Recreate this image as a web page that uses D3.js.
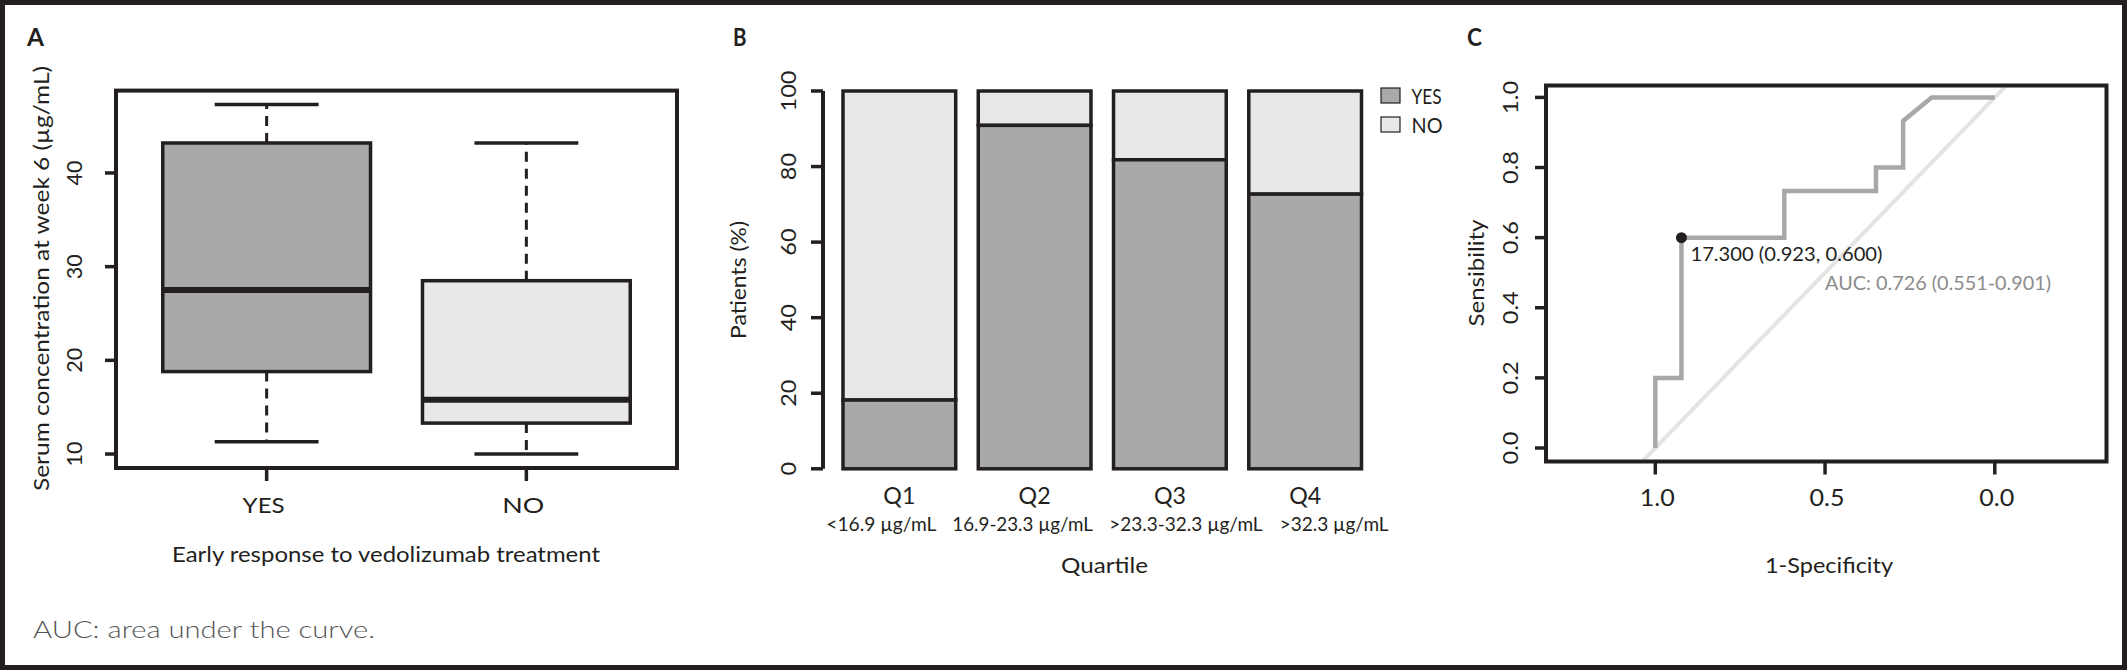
<!DOCTYPE html>
<html>
<head>
<meta charset="utf-8">
<script src="https://cdn.jsdelivr.net/npm/d3@7"></script>
<style>
  html, body { margin: 0; padding: 0; background: #fff; }
  svg { display: block; }
  text { font-family: Lato, "Open Sans", "DejaVu Sans", sans-serif; fill: #231f20; }
</style>
</head>
<body>
<svg id="chart" width="2127" height="670"></svg>
<script>
// ---------------- DATA ----------------
// Panel A: boxplot of serum concentration at week 6 (µg/mL)
const boxGroups = ["YES", "NO"];
const boxMin    = [11.3, 10.0];
const boxQ1     = [18.8, 13.3];
const boxMedian = [27.5, 15.8];
const boxQ3     = [43.2, 28.5];
const boxMax    = [47.3, 43.2];
const boxTicks  = [10, 20, 30, 40];

// Panel B: stacked percentage bars by quartile
const quartiles      = ["Q1", "Q2", "Q3", "Q4"];
const quartileRanges = ["<16.9 µg/mL", "16.9-23.3 µg/mL", ">23.3-32.3 µg/mL", ">32.3 µg/mL"];
const pctYes         = [18.2, 90.9, 81.8, 72.7];
const pctNo          = [81.8, 9.1, 18.2, 27.3];
const pctTicks       = [0, 20, 40, 60, 80, 100];
const legendLabels   = ["YES", "NO"];

// Panel C: ROC curve
const rocSpecificity = [1.0, 1.0, 0.923, 0.923, 0.62, 0.62, 0.35, 0.35, 0.27, 0.27, 0.186, 0.0];
const rocSensitivity = [0.0, 0.2, 0.2,   0.6,   0.6,  0.733, 0.733, 0.8, 0.8, 0.933, 1.0, 1.0];
const rocTicksY = [0.0, 0.2, 0.4, 0.6, 0.8, 1.0];
const rocTicksX = [1.0, 0.5, 0.0];
const bestThreshold = 17.3, bestSpec = 0.923, bestSens = 0.600;
const aucValue = 0.726, aucLow = 0.551, aucHigh = 0.901;

// ---------------- STYLE ----------------
const INK = "#231f20";
const DARK_FILL = "#a9a9aa";
const LIGHT_FILL = "#e8e8e8";

const svg = d3.select("#chart");
svg.append("rect").attr("x", 0).attr("y", 0).attr("width", 2127).attr("height", 670).attr("fill", "#fff");

// text helper: Futura-like wide set is imitated by stretching to the measured width
function label(g, o) {
  const t = g.append("text")
    .attr("font-size", o.size)
    .attr("text-anchor", o.anchor || "middle")
    .text(o.text);
  if (o.rotate) t.attr("transform", `translate(${o.x},${o.y}) rotate(-90)`);
  else t.attr("x", o.x).attr("y", o.y);
  if (o.weight) t.attr("font-weight", o.weight);
  if (o.color) t.style("fill", o.color);
  if (o.width) t.attr("textLength", o.width).attr("lengthAdjust", "spacingAndGlyphs");
  return t;
}

// ================= PANEL A =================
(function () {
  const left = 116, right = 677, top = 90.6, bottom = 468;
  const lo = d3.min(boxMin), hi = d3.max(boxMax), ext = (hi - lo) * 0.04;
  const y = d3.scaleLinear().domain([lo - ext, hi + ext]).range([bottom, top]);
  const x = d3.scaleLinear().domain([0.42, boxGroups.length + 0.58]).range([left, right]);
  const unit = x(2) - x(1);
  const g = svg.append("g");

  boxGroups.forEach((name, i) => {
    const cx = x(i + 1), bw = unit * 0.8, cw = unit * 0.4;
    g.append("line").attr("x1", cx).attr("x2", cx).attr("y1", y(boxQ3[i])).attr("y2", y(boxMax[i]))
      .attr("stroke", INK).attr("stroke-width", 3).attr("stroke-dasharray", "10,7");
    g.append("line").attr("x1", cx).attr("x2", cx).attr("y1", y(boxQ1[i])).attr("y2", y(boxMin[i]))
      .attr("stroke", INK).attr("stroke-width", 3).attr("stroke-dasharray", "10,7");
    [boxMin[i], boxMax[i]].forEach(v => {
      g.append("line").attr("x1", cx - cw / 2).attr("x2", cx + cw / 2).attr("y1", y(v)).attr("y2", y(v))
        .attr("stroke", INK).attr("stroke-width", 3.5);
    });
    g.append("rect").attr("x", cx - bw / 2).attr("width", bw)
      .attr("y", y(boxQ3[i])).attr("height", y(boxQ1[i]) - y(boxQ3[i]))
      .attr("fill", i === 0 ? DARK_FILL : LIGHT_FILL).attr("stroke", INK).attr("stroke-width", 3.5);
    g.append("line").attr("x1", cx - bw / 2).attr("x2", cx + bw / 2).attr("y1", y(boxMedian[i])).attr("y2", y(boxMedian[i]))
      .attr("stroke", INK).attr("stroke-width", 6);
    g.append("line").attr("x1", cx).attr("x2", cx).attr("y1", bottom).attr("y2", bottom + 13)
      .attr("stroke", INK).attr("stroke-width", 3.5);
    label(g, { text: name, x: cx - 3, y: 512.5, size: 22, width: 42 });
  });

  g.append("rect").attr("x", left).attr("y", top).attr("width", right - left).attr("height", bottom - top)
    .attr("fill", "none").attr("stroke", INK).attr("stroke-width", 4);

  boxTicks.forEach(t => {
    g.append("line").attr("x1", left - 11).attr("x2", left).attr("y1", y(t)).attr("y2", y(t))
      .attr("stroke", INK).attr("stroke-width", 3.5);
    label(g, { text: String(t), x: 82, y: y(t), size: 21, rotate: true, width: 12.5 * String(t).length });
  });

  label(g, { text: "Serum concentration at week 6 (µg/mL)", x: 48.5, y: 278.5, size: 21, rotate: true, width: 425 });
  label(g, { text: "Early response to vedolizumab treatment", x: 386, y: 561.5, size: 21, width: 428 });
  label(g, { text: "A", x: 27, y: 45.5, size: 24, weight: "bold", anchor: "start", width: 17 });
})();

// ================= PANEL B =================
(function () {
  const axisX = 823;
  const y = d3.scaleLinear().domain([0, 100]).range([468.8, 91]);
  const x = d3.scaleBand().domain(quartiles).range([843, 1361.5]).paddingInner(1 / 6).paddingOuter(0);
  const g = svg.append("g");
  const nudge = [-18, -12, 16, 29];
  const rangeWidths = [110, 140.5, 153.5, 109];

  quartiles.forEach((q, i) => {
    const bx = x(q), bw = x.bandwidth();
    g.append("rect").attr("x", bx).attr("width", bw).attr("y", y(pctYes[i] + pctNo[i])).attr("height", y(pctYes[i]) - y(pctYes[i] + pctNo[i]))
      .attr("fill", LIGHT_FILL).attr("stroke", INK).attr("stroke-width", 3.5);
    g.append("rect").attr("x", bx).attr("width", bw).attr("y", y(pctYes[i])).attr("height", y(0) - y(pctYes[i]))
      .attr("fill", DARK_FILL).attr("stroke", INK).attr("stroke-width", 3.5);
    label(g, { text: q, x: bx + bw / 2, y: 503.5, size: 23, width: 32 });
    label(g, { text: quartileRanges[i], x: bx + bw / 2 + nudge[i], y: 531, size: 19, width: rangeWidths[i] });
  });

  g.append("line").attr("x1", axisX).attr("x2", axisX).attr("y1", y(0)).attr("y2", y(100))
    .attr("stroke", INK).attr("stroke-width", 4);
  pctTicks.forEach(t => {
    g.append("line").attr("x1", axisX - 12).attr("x2", axisX).attr("y1", y(t)).attr("y2", y(t))
      .attr("stroke", INK).attr("stroke-width", 3.5);
    label(g, { text: String(t), x: 795.5, y: y(t), size: 22, rotate: true, width: 13.6 * String(t).length });
  });

  label(g, { text: "Patients (%)", x: 746, y: 280, size: 21, rotate: true, width: 118 });
  label(g, { text: "Quartile", x: 1104.5, y: 573, size: 22, width: 87 });
  label(g, { text: "B", x: 733, y: 45.5, size: 24, weight: "bold", anchor: "start", width: 13.5 });

  legendLabels.forEach((lab, i) => {
    const ly = 88 + i * 29;
    g.append("rect").attr("x", 1381).attr("y", ly).attr("width", 19).attr("height", 15)
      .attr("fill", i === 0 ? DARK_FILL : LIGHT_FILL).attr("stroke", INK).attr("stroke-width", 1.2);
    label(g, { text: lab, x: 1411.5, y: ly + 15.5, size: 21, anchor: "start", width: i === 0 ? 30 : 31 });
  });
})();

// ================= PANEL C =================
(function () {
  const left = 1546, right = 2106.5, top = 85.5, bottom = 461.5;
  const x = d3.scaleLinear().domain([1, 0]).range([1655.3, 1994.8]);
  const y = d3.scaleLinear().domain([0, 1]).range([448, 97.4]);
  const g = svg.append("g");

  svg.append("clipPath").attr("id", "clipC").append("rect")
    .attr("x", left).attr("y", top).attr("width", right - left).attr("height", bottom - top);

  g.append("line").attr("clip-path", "url(#clipC)")
    .attr("x1", x(1.2)).attr("y1", y(-0.2)).attr("x2", x(-0.2)).attr("y2", y(1.2))
    .attr("stroke", "#e4e4e4").attr("stroke-width", 4);

  const pts = rocSpecificity.map((s, i) => [s, rocSensitivity[i]]);
  const line = d3.line().x(d => x(d[0])).y(d => y(d[1]));
  g.append("path").attr("d", line(pts)).attr("fill", "none")
    .attr("stroke", "#a8a8a8").attr("stroke-width", 4.5).attr("stroke-linejoin", "miter");

  g.append("circle").attr("cx", x(bestSpec)).attr("cy", y(bestSens)).attr("r", 5.5).attr("fill", INK);
  label(g, { text: `${bestThreshold.toFixed(3)} (${bestSpec.toFixed(3)}, ${bestSens.toFixed(3)})`,
             x: x(bestSpec) + 9, y: y(bestSens) + 23, size: 19, anchor: "start", width: 192 });
  label(g, { text: `AUC: ${aucValue.toFixed(3)} (${aucLow.toFixed(3)}-${aucHigh.toFixed(3)})`,
             x: x(0.5), y: 290, size: 19, anchor: "start", width: 226, color: "#8c8c8c" });

  g.append("rect").attr("x", left).attr("y", top).attr("width", right - left).attr("height", bottom - top)
    .attr("fill", "none").attr("stroke", INK).attr("stroke-width", 4);

  rocTicksY.forEach(t => {
    g.append("line").attr("x1", left - 11).attr("x2", left).attr("y1", y(t)).attr("y2", y(t))
      .attr("stroke", INK).attr("stroke-width", 3.5);
    label(g, { text: t.toFixed(1), x: 1518, y: y(t), size: 22, rotate: true, width: 33 });
  });
  rocTicksX.forEach(t => {
    g.append("line").attr("x1", x(t)).attr("x2", x(t)).attr("y1", bottom).attr("y2", bottom + 13)
      .attr("stroke", INK).attr("stroke-width", 3.5);
    label(g, { text: t.toFixed(1), x: x(t) + 2, y: 506, size: 23, width: 35 });
  });

  label(g, { text: "Sensibility", x: 1484, y: 273, size: 21, rotate: true, width: 107 });
  label(g, { text: "1-Specificity", x: 1829, y: 573, size: 22, width: 128 });
  label(g, { text: "C", x: 1467, y: 45.5, size: 24, weight: "bold", anchor: "start", width: 15 });
})();

// caption
label(svg, { text: "AUC: area under the curve.", x: 33, y: 638, size: 24, weight: 300, anchor: "start", width: 342, color: "#555" });

// outer border
svg.append("rect").attr("x", 2.5).attr("y", 2.5).attr("width", 2122).attr("height", 665)
  .attr("fill", "none").attr("stroke", INK).attr("stroke-width", 5);
</script>
</body>
</html>
